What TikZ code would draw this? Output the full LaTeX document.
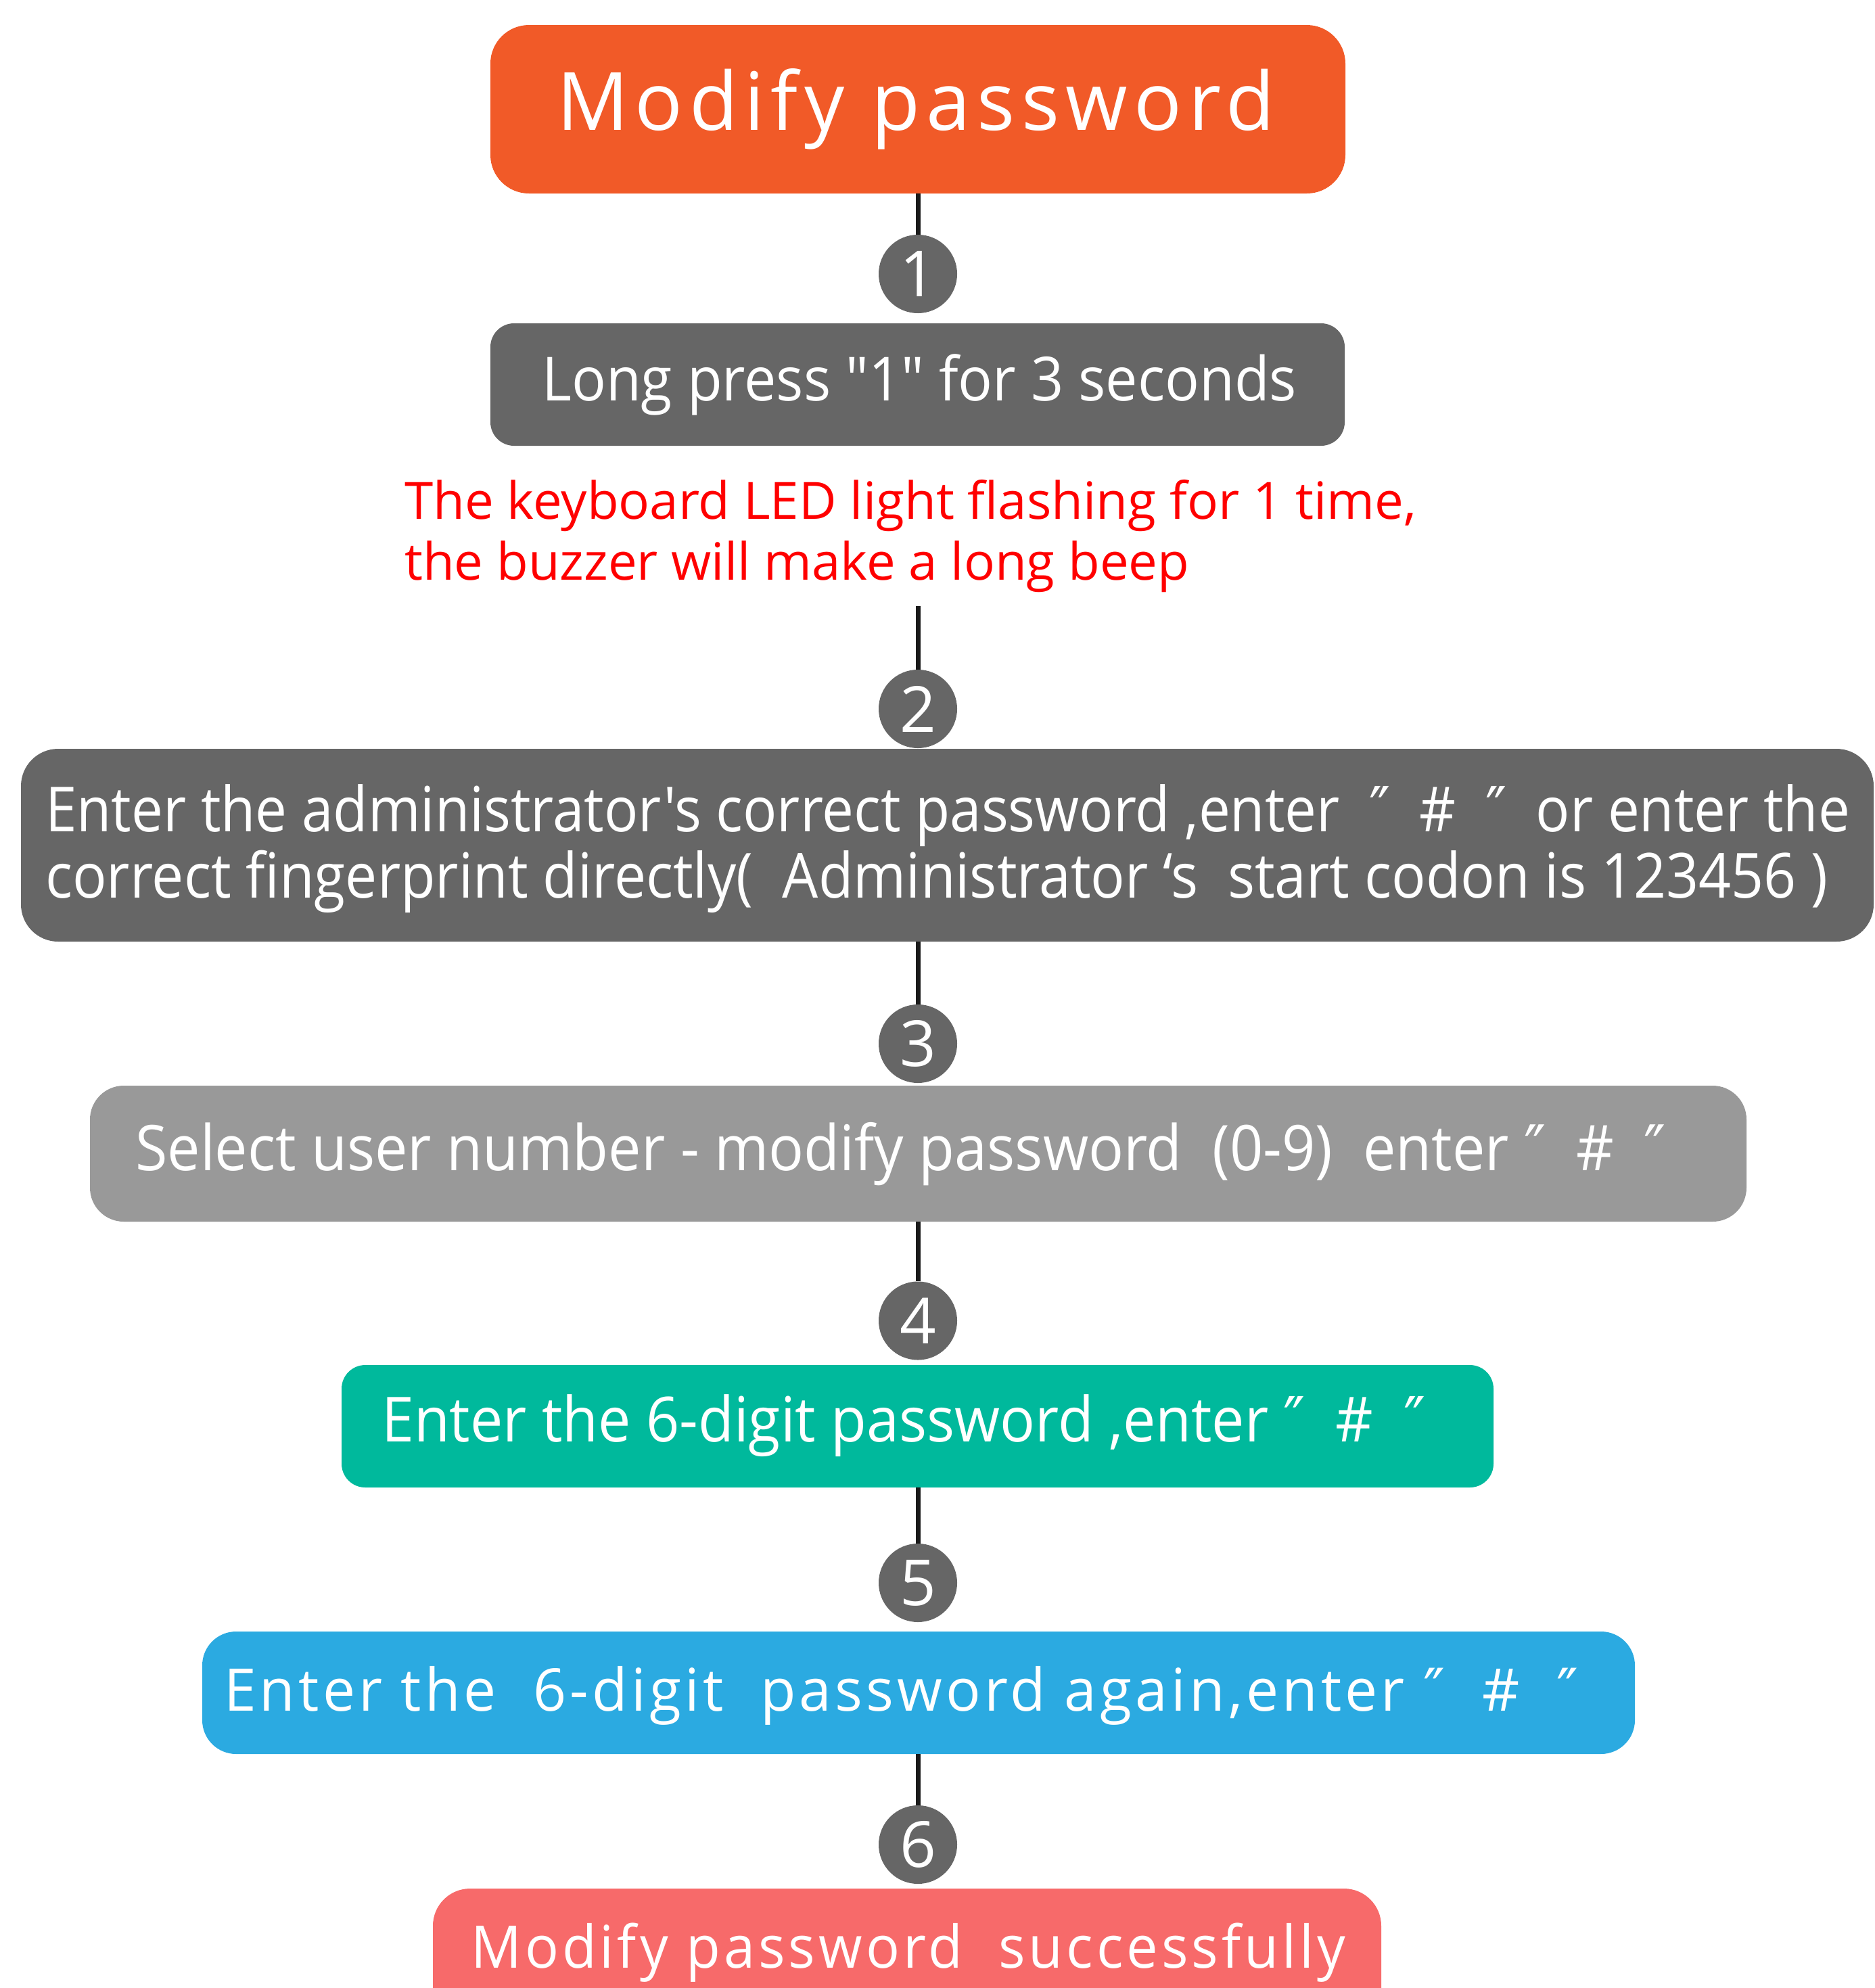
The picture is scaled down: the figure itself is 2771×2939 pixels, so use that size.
\documentclass[tikz,border=0pt]{standalone}
\usepackage{fontspec}
\usepackage{graphicx}
\newfontfamily\os{Open Sans}
\newfontfamily\dv{DejaVu Sans}
\newcommand\dq{{\dv ″}}
\newcommand\fitw[2]{\setbox0=\hbox{#2}\pgfmathsetmacro\fitsx{#1/\the\wd0}\scalebox{\fitsx}[1]{\box0}}
\definecolor{orangeT}{HTML}{F15A28}
\definecolor{grayD}{HTML}{666666}
\definecolor{grayL}{HTML}{999999}
\definecolor{tealB}{HTML}{00B99C}
\definecolor{blueB}{HTML}{2BAAE1}
\definecolor{pinkB}{HTML}{F76A6A}
\definecolor{redT}{HTML}{FF0000}
\definecolor{lineC}{HTML}{1A1A1A}
\begin{document}
\begin{tikzpicture}[x=1pt,y=-1pt,
  boxs/.style={rectangle,inner sep=0pt,draw=none},
  numc/.style={circle,fill=grayD,minimum size=116pt,inner sep=0pt,text=white,font=\os\fontsize{94}{110}\selectfont},
  txt/.style={inner sep=0pt,anchor=base west,text=white,font=\os\fontsize{92}{110}\selectfont},
  conn/.style={draw=lineC,line width=7pt}]
\useasboundingbox (0,0) rectangle (2771,2939);
% boxes
\node[boxs,fill=orangeT,rounded corners=57pt,minimum width=1264pt,minimum height=249pt] (title) at (1357,161.5) {};
\node[boxs,fill=grayD,rounded corners=35pt,minimum width=1263pt,minimum height=181pt] (b1) at (1356.5,568.5) {};
\node[boxs,fill=grayD,rounded corners=55pt,minimum width=2739pt,minimum height=285pt] (b2) at (1400.5,1249.5) {};
\node[boxs,fill=grayL,rounded corners=50pt,minimum width=2449pt,minimum height=201pt] (b3) at (1357.5,1705.5) {};
\node[boxs,fill=tealB,rounded corners=35pt,minimum width=1703pt,minimum height=181pt] (b4) at (1356.5,2108.5) {};
\node[boxs,fill=blueB,rounded corners=50pt,minimum width=2118pt,minimum height=181pt] (b5) at (1358,2502.5) {};
\node[boxs,fill=pinkB,rounded corners=55pt,minimum width=1402pt,minimum height=250pt] (b6) at (1341,2917) {};
% number circles
\node[numc] (c1) at (1357,405) {1};
\node[numc] (c2) at (1357,1048) {2};
\node[numc] (c3) at (1357,1543) {3};
\node[numc] (c4) at (1357,1952.5) {4};
\node[numc] (c5) at (1357,2340) {5};
\node[numc] (c6) at (1357,2727) {6};
\coordinate (n2) at (1357,896);
% connectors
\draw[conn] (title.south -| c1) -- (c1.north);
\draw[conn] (n2) -- (c2.north);
\draw[conn] (b2.south -| c3) -- (c3.north);
\draw[conn] (b3.south -| c4) -- (c4.north);
\draw[conn] (b4.south -| c5) -- (c5.north);
\draw[conn] (b5.south -| c6) -- (c6.north);
% texts
\node[txt,font=\os\fontsize{119}{140}\selectfont] (tT) at (823,192) {\fitw{1061}{\addfontfeature{LetterSpace=8}Modify password}};
\node[txt,font=\os\fontsize{90}{110}\selectfont] (t1) at (801,592) {\fitw{1116}{Long press "1" for 3 seconds}};
\node[txt,text=redT,font=\os\fontsize{76}{90}\selectfont] (nA) at (598,767) {\fitw{1496}{The keyboard LED light flashing for 1 time,}};
\node[txt,text=redT,font=\os\fontsize{76}{90}\selectfont] (nB) at (598,857) {\fitw{1160}{the buzzer will make a long beep}};
\node[txt] (t2a) at (67,1229) {\fitw{2668}{Enter the administrator's correct password ,enter\ \ \dq\ \ \#\ \ \dq\ \ or enter the}};
\node[txt] (t2b) at (67,1327) {\fitw{2635}{correct fingerprint directly(\ \ Administrator ‘s\ \ start codon is 123456 )}};
\node[txt,font=\os\fontsize{93}{110}\selectfont] (t3) at (200,1730) {\fitw{2263}{Select user number - modify password\ \ (0-9)\ \ enter\ \dq\ \ \#\ \ \dq}};
\node[txt] (t4) at (564,2131) {\fitw{1543}{Enter the 6-digit password ,enter\ \dq\ \ \#\ \ \dq}};
\node[txt,font=\os\fontsize{87}{105}\selectfont] (t5) at (331,2529) {\fitw{2002}{\addfontfeature{LetterSpace=6}Enter the\ \ 6-digit\ \ password again,enter\ \dq\ \ \#\ \ \dq}};
\node[txt,font=\os\fontsize{87}{105}\selectfont] (t6) at (696,2909) {\fitw{1293}{\addfontfeature{LetterSpace=6}Modify password\ \ successfully}};
\end{tikzpicture}
\end{document}
